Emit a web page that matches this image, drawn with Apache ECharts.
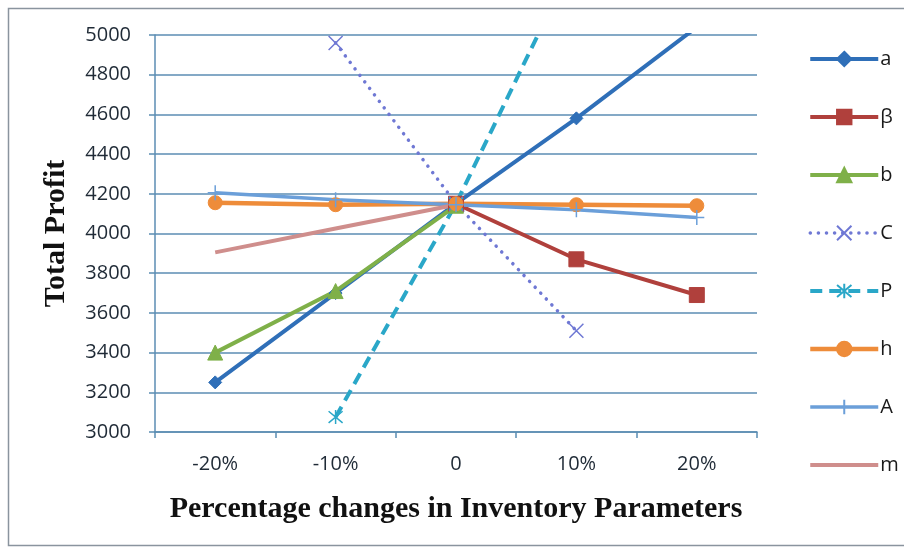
<!DOCTYPE html>
<html>
<head>
<meta charset="utf-8">
<script src="https://cdn.jsdelivr.net/npm/echarts@6/dist/echarts.min.js"></script>
<style>
  html, body { margin: 0; padding: 0; background: #ffffff; }
  #chart { width: 904px; height: 549px; }
</style>
</head>
<body>
<div id="chart"></div>
<script>
// Category labels along the x axis
const categories = ['-20%', '-10%', '0', '10%', '20%'];

// Total profit for each parameter as it changes
const seriesA     = [3250, 3700, 4150, 4580, 5040];
const seriesBeta  = [null, null, 4150, 3870, 3690];
const seriesB     = [3400, 3710, 4140, null, null];
const seriesC     = [null, 4960, 4150, 3510, null];
const seriesP     = [null, 3075, 4150, 5400, null];
const seriesH     = [4155, 4145, 4150, 4145, 4140];
const seriesBigA  = [4205, 4170, 4145, 4120, 4080];
const seriesM     = [3905, 4025, 4145, null, null];

// Y axis range
const yMin = 3000, yMax = 5000, yStep = 200;

const gridColor = '#5b8db3';
const labelFont = '"Open Sans", "DejaVu Sans", sans-serif';
const titleFont = '"Liberation Serif", "DejaVu Serif", serif';

const X_MARK = 'path://M0,0L10,10M10,0L0,10';
const STAR_MARK = 'path://M0,0L10,10M10,0L0,10M5,-1L5,11';
const PLUS_MARK = 'path://M5,0L5,10M0,5L10,5';

const styles = {
  'a': { color: '#2f6fb8', symbol: 'diamond', symbolSize: 13, width: 4 },
  'β': { color: '#b0403c', symbol: 'rect', symbolSize: 15, width: 4 },
  'b': { color: '#7fb049', symbol: 'triangle', symbolSize: 15, width: 4 },
  'C': { color: '#6f78d4', symbol: X_MARK, symbolSize: 14, width: 3.5, type: [0.1, 8], cap: 'round', border: 1.5, fill: false },
  'P': { color: '#2aa7c8', symbol: STAR_MARK, symbolSize: 14, width: 4, type: [12, 7], border: 1.5, fill: false },
  'h': { color: '#ee8c3a', symbol: 'circle', symbolSize: 14, width: 4.5 },
  'A': { color: '#6b9fd9', symbol: PLUS_MARK, symbolSize: 15, width: 3.5, border: 1.5, fill: false },
  'm': { color: '#cf8e8c', width: 4 }
};

function line(name, data) {
  const o = styles[name];
  return {
    name: name,
    type: 'line',
    data: data,
    connectNulls: false,
    clip: true,
    symbol: o.symbol || 'none',
    symbolSize: o.symbolSize || 10,
    showSymbol: !!o.symbol,
    lineStyle: { color: o.color, width: o.width, type: o.type || 'solid', cap: o.cap || 'butt' },
    itemStyle: {
      color: o.fill === false ? 'rgba(0,0,0,0)' : o.color,
      borderColor: o.color,
      borderWidth: o.border || 1
    },
    emphasis: { disabled: true },
    animation: false
  };
}

function legendItem(name) {
  const o = styles[name];
  const item = {
    name: name,
    lineStyle: { color: o.color, width: o.width, type: o.type || 'solid', cap: o.cap || 'butt' }
  };
  if (!o.symbol) {
    item.itemStyle = { color: 'rgba(0,0,0,0)', borderColor: 'rgba(0,0,0,0)', borderWidth: 0 };
  }
  return item;
}

const names = ['a', 'β', 'b', 'C', 'P', 'h', 'A', 'm'];

const chart = echarts.init(document.getElementById('chart'), null, { renderer: 'canvas' });

chart.setOption({
  backgroundColor: '#ffffff',
  animation: false,
  graphic: [{
    type: 'rect',
    shape: { x: 8.5, y: 8.5, width: 900, height: 537 },
    style: { fill: 'none', stroke: '#8a949e', lineWidth: 1.5 },
    z: -1
  }],
  grid: { left: 155, right: 147, top: 35, bottom: 117, containLabel: false },
  legend: {
    orient: 'vertical',
    left: 803,
    top: 44,
    itemWidth: 68,
    itemHeight: 18,
    itemGap: 38,
    textStyle: { fontFamily: labelFont, fontSize: 20, color: '#1a1a1a', lineHeight: 20, padding: [0, 0, 0, -3] },
    data: names.map(legendItem)
  },
  xAxis: {
    type: 'category',
    data: categories,
    boundaryGap: true,
    name: 'Percentage changes in Inventory Parameters',
    nameLocation: 'middle',
    nameGap: 62,
    nameTextStyle: { fontFamily: titleFont, fontWeight: 'bold', fontSize: 30, color: '#111111' },
    axisLine: { show: true, lineStyle: { color: gridColor, width: 1.5 } },
    axisTick: { show: true, length: 6, lineStyle: { color: gridColor, width: 1.5 } },
    axisLabel: { margin: 22, fontFamily: labelFont, fontSize: 20, color: '#1f2a36' },
    splitLine: { show: false }
  },
  yAxis: {
    type: 'value',
    min: yMin,
    max: yMax,
    interval: yStep,
    name: 'Total Profit',
    nameLocation: 'middle',
    nameRotate: 90,
    nameGap: 84,
    nameTextStyle: { fontFamily: titleFont, fontWeight: 'bold', fontSize: 30, color: '#111111' },
    axisLine: { show: true, lineStyle: { color: gridColor, width: 1.5 } },
    axisTick: { show: true, length: 6, lineStyle: { color: gridColor, width: 1.5 } },
    axisLabel: { margin: 24, fontFamily: labelFont, fontSize: 20, color: '#1f2a36', formatter: v => String(v) },
    splitLine: { show: true, lineStyle: { color: gridColor, width: 1.5 } }
  },
  series: [
    line('a', seriesA),
    line('β', seriesBeta),
    line('b', seriesB),
    line('C', seriesC),
    line('P', seriesP),
    line('h', seriesH),
    line('A', seriesBigA),
    line('m', seriesM)
  ]
});
</script>
</body>
</html>
